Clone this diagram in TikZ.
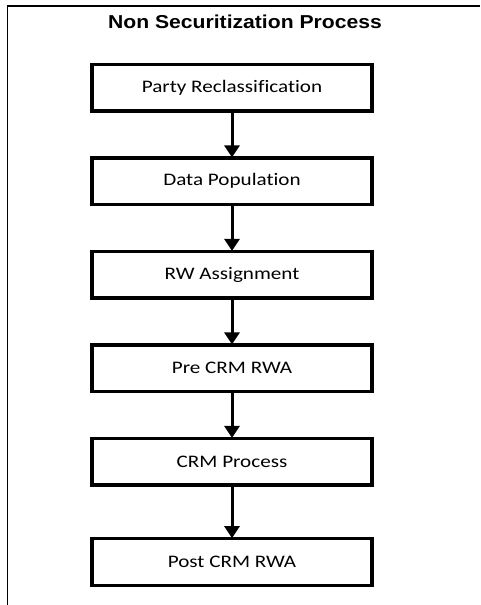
\documentclass[tikz,border=0pt]{standalone}
\usepackage{fontspec}
\usetikzlibrary{arrows.meta}
\newfontfamily\titlefont[FakeStretch=1.13]{Liberation Sans}
\newfontfamily\boxfont[FakeStretch=1.2,Ligatures=NoCommon]{Carlito}
\tikzset{
  procbox/.style={draw=black, line width=3.2pt, minimum width=280pt, minimum height=46.5pt, inner sep=0pt, font=\boxfont\fontsize{17.6}{20}\selectfont},
  flow/.style={line width=3pt, -{Triangle[length=12pt,width=15pt]}, shorten >=-1pt},
  frame/.style={line width=1.4pt}
}
\begin{document}
\begin{tikzpicture}[x=1pt,y=-1pt]
\useasboundingbox (0,0) rectangle (480,605);
\coordinate (fb) at (7.3,605);
\coordinate (fc) at (7.3,6);
\coordinate (fr) at (480,6);
\draw[frame] (fb) -- (fc) -- (fr);
\node[font=\titlefont\bfseries\fontsize{18.7}{22}\selectfont] (title) at (245,21.5) {Non Securitization Process};
\node[procbox] (b1) at (232,87.75) {Party Reclassification};
\node[procbox] (b2) at (232,181.25) {Data Population};
\node[procbox] (b3) at (232,274.75) {RW Assignment};
\node[procbox] (b4) at (232,368.25) {Pre CRM RWA};
\node[procbox] (b5) at (232,461.75) {CRM Process};
\node[procbox] (b6) at (232,562) {Post CRM RWA};
\draw[flow] (b1) -- (b2);
\draw[flow] (b2) -- (b3);
\draw[flow] (b3) -- (b4);
\draw[flow] (b4) -- (b5);
\draw[flow] (b5) -- (b6);
\end{tikzpicture}
\end{document}
